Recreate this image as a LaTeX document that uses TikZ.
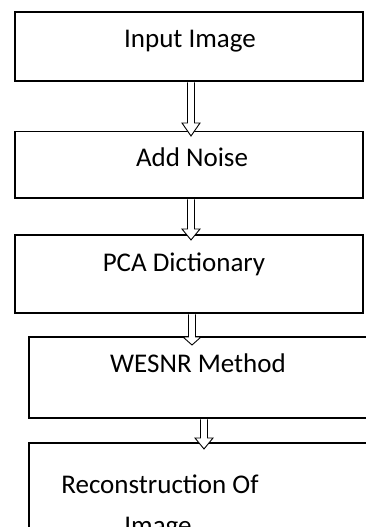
\documentclass[tikz,border=0pt]{standalone}
\usepackage{fontspec}
\setmainfont{Carlito}
\usetikzlibrary{calc}
\tikzset{
  box/.style={draw=black, line width=1.2pt, rectangle, inner sep=0pt, fill=none},
  lbl/.style={anchor=base, inner sep=0pt, font=\fontsize{27}{41}\selectfont},
  hollow/.style={line width=0.9pt, draw=black, fill=white,
    to path={let \p1=(\tikztostart), \p2=(\tikztotarget) in
      (\x2-3.5pt,\y1-0.7pt) -- (\x2-3.5pt,\y2+#1) -- (\x2-9pt,\y2+#1) -- (\x2,\y2)
      -- (\x2+9pt,\y2+#1) -- (\x2+3.5pt,\y2+#1) -- (\x2+3.5pt,\y1-0.7pt)}},
  hollow/.default=12pt
}
\begin{document}
\begin{tikzpicture}[x=1pt,y=-1pt]
\useasboundingbox (0,0) rectangle (366,527);
\clip (0,0) rectangle (366,527);
% boxes
\node[box, minimum width=348pt, minimum height=69pt] (b1) at (189,46.5) {};
\node[box, minimum width=348pt, minimum height=66.5pt] (b2) at (189,164.75) {};
\node[box, minimum width=348pt, minimum height=78pt] (b3) at (189,274) {};
\node[box, minimum width=361pt, minimum height=81pt] (b4) at (209.5,377.5) {};
\node[box, minimum width=361pt, minimum height=157pt] (b5) at (209.5,521.5) {};
% texts
\node[lbl] (t1) at (190,48) {Input Image};
\node[lbl] (t2) at (192,166) {Add Noise};
\node[lbl] (t3) at (184,271) {PCA Dictionary};
\node[lbl] (t4) at (198,372) {WESNR Method};
\node[lbl] (t5a) at (160,493) {Reconstruction Of};
\node[lbl] (t5b) at (158,534) {Image};
% arrow tips
\coordinate (p1) at (191,136);
\coordinate (p2) at (191,240);
\coordinate (p3) at (192,345);
\coordinate (p4) at (204,449);
\draw[hollow=13pt] (b1.south -| p1) to (p1);
\draw[hollow=11pt] (b2.south -| p2) to (p2);
\draw[hollow=8pt] (b3.south -| p3) to (p3);
\draw[hollow=11pt] (b4.south -| p4) to (p4);
\end{tikzpicture}
\end{document}
